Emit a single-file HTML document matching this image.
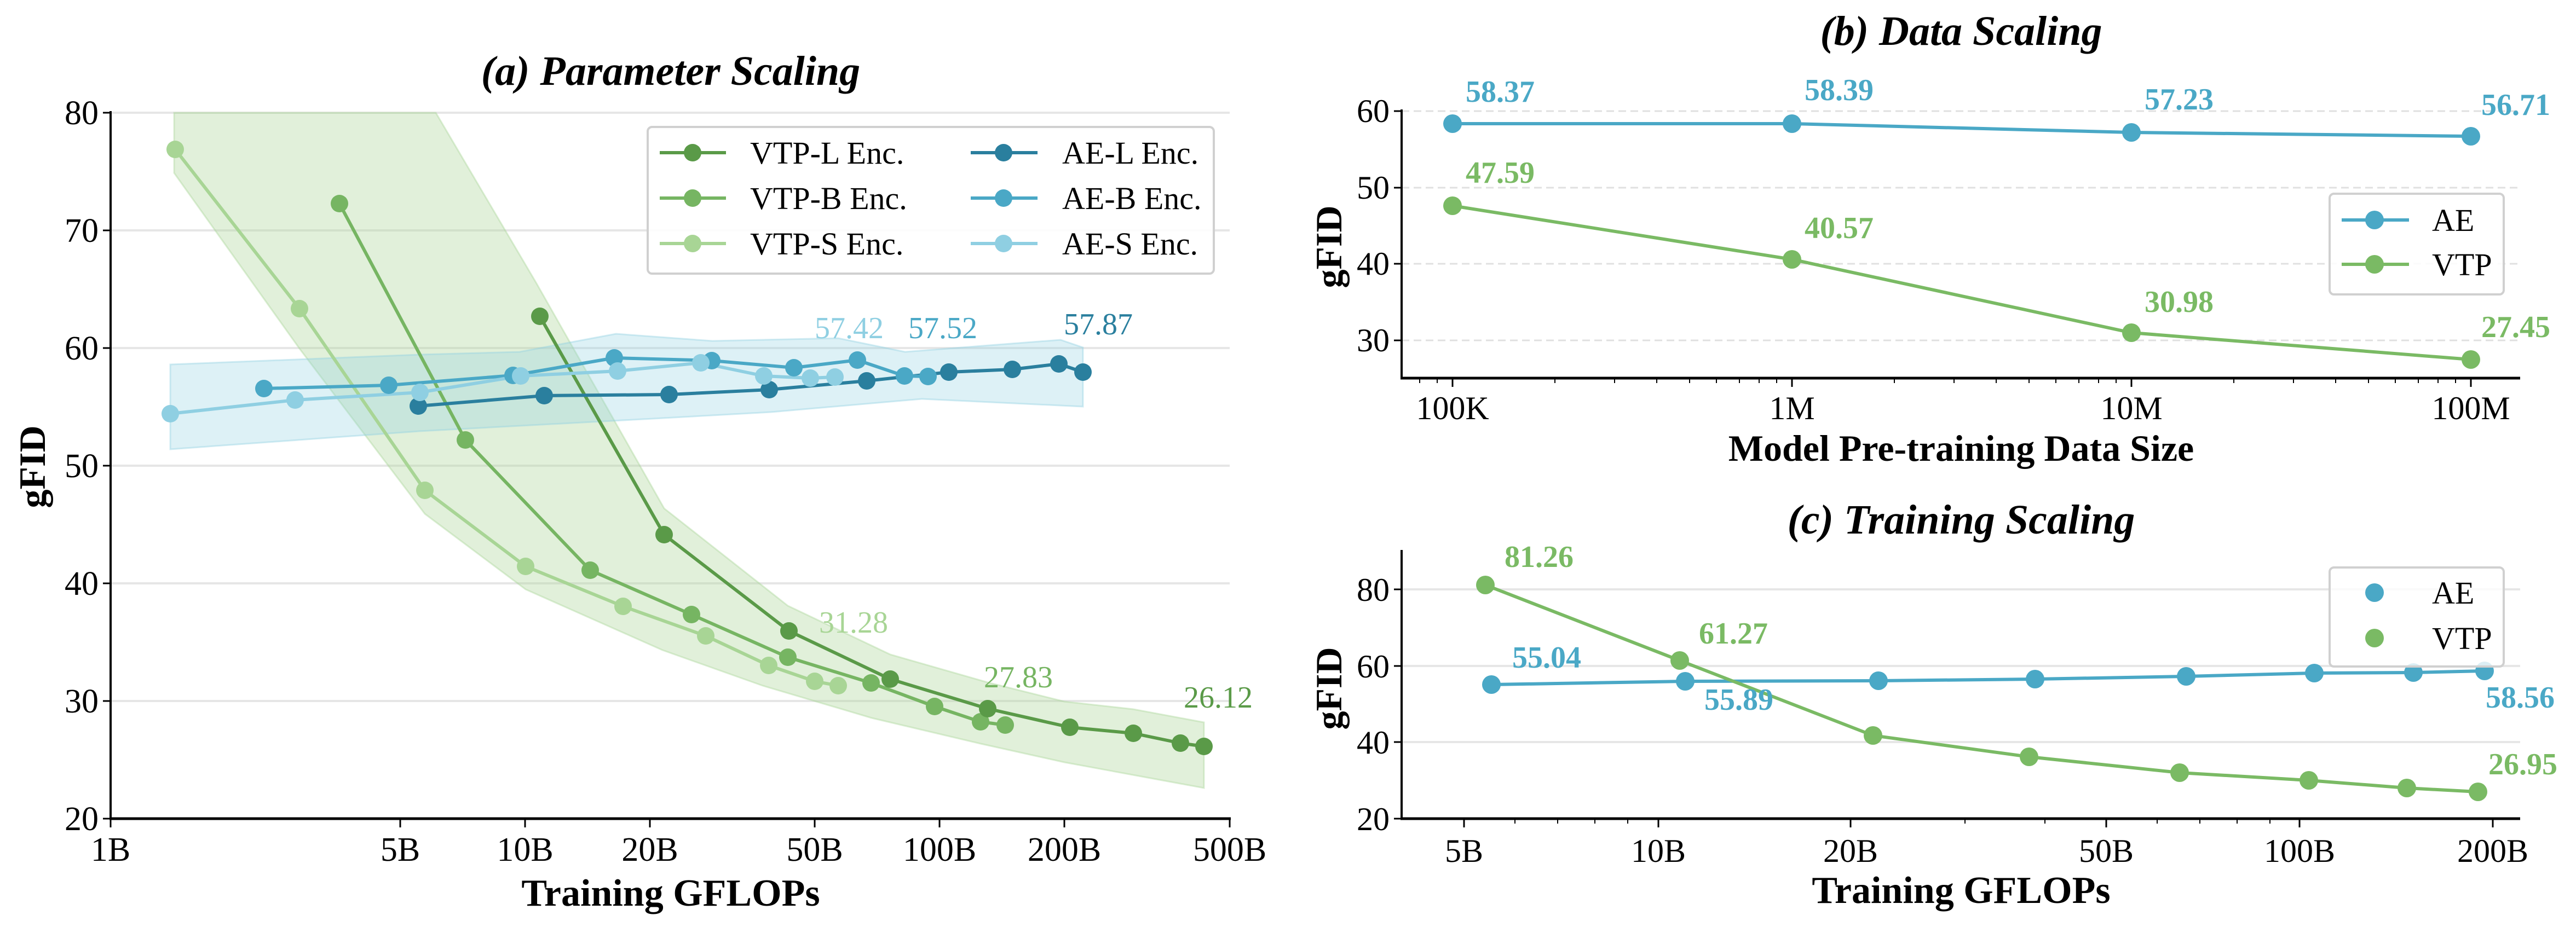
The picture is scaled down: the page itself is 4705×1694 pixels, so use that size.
<!DOCTYPE html>
<html><head><meta charset="utf-8"><style>
html,body{margin:0;padding:0;background:#fff;}
svg{display:block;font-family:"Liberation Serif",serif;}
</style></head><body>
<svg width="4705" height="1694" viewBox="0 0 4705 1694" xmlns="http://www.w3.org/2000/svg">
<rect width="4705" height="1694" fill="#fff"/>
<!-- ===== Panel (a) ===== -->
<g stroke="#e6e6e6" stroke-width="4">
<line x1="202" y1="1281" x2="2246" y2="1281"/><line x1="202" y1="1066" x2="2246" y2="1066"/>
<line x1="202" y1="851" x2="2246" y2="851"/><line x1="202" y1="636" x2="2246" y2="636"/>
<line x1="202" y1="421" x2="2246" y2="421"/><line x1="202" y1="206" x2="2246" y2="206"/>
</g>
<polygon fill="#a8d595" fill-opacity="0.35" stroke="#a8d595" stroke-opacity="0.4" stroke-width="3" points="318,206 796,206 980,518 1213,929 1439,1107 1626,1196 1804,1247 1944,1282 2070,1296 2199,1320 2199,1440 1944,1393 1791,1359 1592,1312 1393,1253 1210,1188 960,1077 776,939 547,637 318,316"/>
<polygon fill="#8fcfe2" fill-opacity="0.3" stroke="#8fcfe2" stroke-opacity="0.4" stroke-width="3" points="311,666 766,648 949,643 1125,610 1301,623 1531,618 1653,643 1937,621 1978,635 1978,743 1684,729 1409,753 1194,765 766,788 311,821"/>
<g fill="none" stroke-width="6" stroke-linejoin="round">
<polyline stroke="#a8d595" points="320,273 547,564 776,896 960,1035 1138,1108 1289,1162 1404,1216 1488,1245 1531,1253"/>
<polyline stroke="#76b562" points="620,372 850,804 1078,1042 1263,1123 1439,1201 1591,1248 1707,1291 1791,1319 1836,1325"/>
<polyline stroke="#5a9a48" points="986,578 1213,977 1441,1153 1626,1241 1804,1295 1954,1329 2070,1340 2156,1358 2199,1364"/>
<polyline stroke="#2a7f9e" points="764,742 994,723 1222,721 1405,712 1583,696 1733,680 1849,675 1934,665 1978,680"/>
<polyline stroke="#4aa8c6" points="482,710 710,704 937,686 1122,654 1300,659 1450,672 1566,658 1652,687 1695,688"/>
<polyline stroke="#8fcfe2" points="311,756 539,731 767,717 951,687 1128,678 1280,663 1395,687 1480,691 1525,689"/>
</g>
<g fill="#a8d595"><circle cx="320" cy="273" r="16"/><circle cx="547" cy="564" r="16"/><circle cx="776" cy="896" r="16"/><circle cx="960" cy="1035" r="16"/><circle cx="1138" cy="1108" r="16"/><circle cx="1289" cy="1162" r="16"/><circle cx="1404" cy="1216" r="16"/><circle cx="1488" cy="1245" r="16"/><circle cx="1531" cy="1253" r="16"/></g>
<g fill="#76b562"><circle cx="620" cy="372" r="16"/><circle cx="850" cy="804" r="16"/><circle cx="1078" cy="1042" r="16"/><circle cx="1263" cy="1123" r="16"/><circle cx="1439" cy="1201" r="16"/><circle cx="1591" cy="1248" r="16"/><circle cx="1707" cy="1291" r="16"/><circle cx="1791" cy="1319" r="16"/><circle cx="1836" cy="1325" r="16"/></g>
<g fill="#5a9a48"><circle cx="986" cy="578" r="16"/><circle cx="1213" cy="977" r="16"/><circle cx="1441" cy="1153" r="16"/><circle cx="1626" cy="1241" r="16"/><circle cx="1804" cy="1295" r="16"/><circle cx="1954" cy="1329" r="16"/><circle cx="2070" cy="1340" r="16"/><circle cx="2156" cy="1358" r="16"/><circle cx="2199" cy="1364" r="16"/></g>
<g fill="#2a7f9e"><circle cx="764" cy="742" r="16"/><circle cx="994" cy="723" r="16"/><circle cx="1222" cy="721" r="16"/><circle cx="1405" cy="712" r="16"/><circle cx="1583" cy="696" r="16"/><circle cx="1733" cy="680" r="16"/><circle cx="1849" cy="675" r="16"/><circle cx="1934" cy="665" r="16"/><circle cx="1978" cy="680" r="16"/></g>
<g fill="#4aa8c6"><circle cx="482" cy="710" r="16"/><circle cx="710" cy="704" r="16"/><circle cx="937" cy="686" r="16"/><circle cx="1122" cy="654" r="16"/><circle cx="1300" cy="659" r="16"/><circle cx="1450" cy="672" r="16"/><circle cx="1566" cy="658" r="16"/><circle cx="1652" cy="687" r="16"/><circle cx="1695" cy="688" r="16"/></g>
<g fill="#8fcfe2"><circle cx="311" cy="756" r="16"/><circle cx="539" cy="731" r="16"/><circle cx="767" cy="717" r="16"/><circle cx="951" cy="687" r="16"/><circle cx="1128" cy="678" r="16"/><circle cx="1280" cy="663" r="16"/><circle cx="1395" cy="687" r="16"/><circle cx="1480" cy="691" r="16"/><circle cx="1525" cy="689" r="16"/></g>
<g font-size="56" text-anchor="middle">
<text x="1551" y="618" fill="#8fcfe2">57.42</text>
<text x="1722" y="618" fill="#4aa8c6">57.52</text>
<text x="2006" y="611" fill="#2a7f9e">57.87</text>
<text x="1559" y="1156" fill="#a8d595">31.28</text>
<text x="1860" y="1256" fill="#76b562">27.83</text>
<text x="2225" y="1293" fill="#5a9a48">26.12</text>
</g>
<!-- legend a -->
<rect x="1183" y="232" width="1034" height="268" rx="8" fill="#fff" fill-opacity="0.85" stroke="#d0d0d0" stroke-width="4"/>
<g stroke-width="6">
<line x1="1205" y1="279" x2="1326" y2="279" stroke="#5a9a48"/><circle cx="1265" cy="279" r="16" fill="#5a9a48"/>
<line x1="1205" y1="362" x2="1326" y2="362" stroke="#76b562"/><circle cx="1265" cy="362" r="16" fill="#76b562"/>
<line x1="1205" y1="445" x2="1326" y2="445" stroke="#a8d595"/><circle cx="1265" cy="445" r="16" fill="#a8d595"/>
<line x1="1773" y1="279" x2="1895" y2="279" stroke="#2a7f9e"/><circle cx="1833" cy="279" r="16" fill="#2a7f9e"/>
<line x1="1773" y1="362" x2="1895" y2="362" stroke="#4aa8c6"/><circle cx="1833" cy="362" r="16" fill="#4aa8c6"/>
<line x1="1773" y1="445" x2="1895" y2="445" stroke="#8fcfe2"/><circle cx="1833" cy="445" r="16" fill="#8fcfe2"/>
</g>
<g font-size="58" fill="#000">
<text x="1370" y="299">VTP-L Enc.</text><text x="1370" y="382">VTP-B Enc.</text><text x="1370" y="465">VTP-S Enc.</text>
<text x="1940" y="299">AE-L Enc.</text><text x="1940" y="382">AE-B Enc.</text><text x="1940" y="465">AE-S Enc.</text>
</g>
<!-- axes a -->
<g stroke="#000">
<line x1="202" y1="203" x2="202" y2="1498" stroke-width="4"/>
<line x1="200" y1="1496" x2="2248" y2="1496" stroke-width="5"/>
<g stroke-width="3">
<line x1="188" y1="1496" x2="202" y2="1496"/><line x1="188" y1="1281" x2="202" y2="1281"/><line x1="188" y1="1066" x2="202" y2="1066"/><line x1="188" y1="851" x2="202" y2="851"/><line x1="188" y1="636" x2="202" y2="636"/><line x1="188" y1="421" x2="202" y2="421"/><line x1="188" y1="206" x2="202" y2="206"/>
<line x1="202" y1="1496" x2="202" y2="1512"/><line x1="731" y1="1496" x2="731" y2="1512"/><line x1="959" y1="1496" x2="959" y2="1512"/><line x1="1187" y1="1496" x2="1187" y2="1512"/><line x1="1488" y1="1496" x2="1488" y2="1512"/><line x1="1716" y1="1496" x2="1716" y2="1512"/><line x1="1944" y1="1496" x2="1944" y2="1512"/><line x1="2246" y1="1496" x2="2246" y2="1512"/>
</g></g>
<g font-size="62" text-anchor="end">
<text x="180" y="1517">20</text><text x="180" y="1302">30</text><text x="180" y="1087">40</text><text x="180" y="872">50</text><text x="180" y="657">60</text><text x="180" y="442">70</text><text x="180" y="227">80</text>
</g>
<g font-size="62" text-anchor="middle">
<text x="202" y="1573">1B</text><text x="731" y="1573">5B</text><text x="959" y="1573">10B</text><text x="1187" y="1573">20B</text><text x="1488" y="1573">50B</text><text x="1716" y="1573">100B</text><text x="1944" y="1573">200B</text><text x="2246" y="1573">500B</text>
</g>
<text x="1225" y="1655" font-size="70" font-weight="bold" text-anchor="middle">Training GFLOPs</text>
<text x="1225" y="155" font-size="76" font-weight="bold" font-style="italic" text-anchor="middle">(a) Parameter Scaling</text>
<text transform="translate(82,853) rotate(-90)" font-size="68" font-weight="bold" text-anchor="middle">gFID</text>

<!-- ===== Panel (b) ===== -->
<g stroke="#e0e0e0" stroke-width="3" stroke-dasharray="14,8">
<line x1="2560" y1="622" x2="4603" y2="622"/><line x1="2560" y1="482" x2="4603" y2="482"/><line x1="2560" y1="343" x2="4603" y2="343"/><line x1="2560" y1="203" x2="4603" y2="203"/>
</g>
<g fill="none" stroke-width="6">
<polyline stroke="#4aa8c6" points="2653,226 3273,226 3893,242 4513,249"/>
<polyline stroke="#7aba64" points="2653,376 3273,474 3893,608 4513,657"/>
</g>
<g fill="#4aa8c6"><circle cx="2653" cy="226" r="17"/><circle cx="3273" cy="226" r="17"/><circle cx="3893" cy="242" r="17"/><circle cx="4513" cy="249" r="17"/></g>
<g fill="#7aba64"><circle cx="2653" cy="376" r="17"/><circle cx="3273" cy="474" r="17"/><circle cx="3893" cy="608" r="17"/><circle cx="4513" cy="657" r="17"/></g>
<g font-size="56" font-weight="bold" text-anchor="middle">
<text x="2740" y="186" fill="#4aa8c6">58.37</text><text x="3359" y="183" fill="#4aa8c6">58.39</text><text x="3980" y="200" fill="#4aa8c6">57.23</text><text x="4595" y="210" fill="#4aa8c6">56.71</text>
<text x="2740" y="334" fill="#7aba64">47.59</text><text x="3359" y="435" fill="#7aba64">40.57</text><text x="3980" y="570" fill="#7aba64">30.98</text><text x="4595" y="616" fill="#7aba64">27.45</text>
</g>
<rect x="4255" y="354" width="318" height="184" rx="8" fill="#fff" fill-opacity="0.85" stroke="#d0d0d0" stroke-width="4"/>
<line x1="4277" y1="402" x2="4400" y2="402" stroke="#4aa8c6" stroke-width="6"/><circle cx="4337" cy="402" r="17" fill="#4aa8c6"/>
<line x1="4277" y1="483" x2="4400" y2="483" stroke="#7aba64" stroke-width="6"/><circle cx="4337" cy="483" r="17" fill="#7aba64"/>
<text x="4442" y="422" font-size="58">AE</text><text x="4442" y="503" font-size="58">VTP</text>
<g stroke="#000">
<line x1="2560" y1="200" x2="2560" y2="693" stroke-width="4"/>
<line x1="2558" y1="691" x2="4603" y2="691" stroke-width="5"/>
<g stroke-width="3">
<line x1="2546" y1="622" x2="2560" y2="622"/><line x1="2546" y1="482" x2="2560" y2="482"/><line x1="2546" y1="343" x2="2560" y2="343"/><line x1="2546" y1="203" x2="2560" y2="203"/>
<line x1="2653" y1="691" x2="2653" y2="707"/><line x1="3273" y1="691" x2="3273" y2="707"/><line x1="3893" y1="691" x2="3893" y2="707"/><line x1="4513" y1="691" x2="4513" y2="707"/>
</g>
<g stroke-width="2">
<line x1="2593" y1="691" x2="2593" y2="700"/><line x1="2625" y1="691" x2="2625" y2="700"/>
<line x1="2840" y1="691" x2="2840" y2="700"/><line x1="2949" y1="691" x2="2949" y2="700"/><line x1="3026" y1="691" x2="3026" y2="700"/><line x1="3086" y1="691" x2="3086" y2="700"/><line x1="3135" y1="691" x2="3135" y2="700"/><line x1="3177" y1="691" x2="3177" y2="700"/><line x1="3213" y1="691" x2="3213" y2="700"/><line x1="3245" y1="691" x2="3245" y2="700"/>
<line x1="3460" y1="691" x2="3460" y2="700"/><line x1="3569" y1="691" x2="3569" y2="700"/><line x1="3646" y1="691" x2="3646" y2="700"/><line x1="3706" y1="691" x2="3706" y2="700"/><line x1="3755" y1="691" x2="3755" y2="700"/><line x1="3797" y1="691" x2="3797" y2="700"/><line x1="3833" y1="691" x2="3833" y2="700"/><line x1="3865" y1="691" x2="3865" y2="700"/>
<line x1="4080" y1="691" x2="4080" y2="700"/><line x1="4189" y1="691" x2="4189" y2="700"/><line x1="4266" y1="691" x2="4266" y2="700"/><line x1="4326" y1="691" x2="4326" y2="700"/><line x1="4375" y1="691" x2="4375" y2="700"/><line x1="4417" y1="691" x2="4417" y2="700"/><line x1="4453" y1="691" x2="4453" y2="700"/><line x1="4485" y1="691" x2="4485" y2="700"/>
</g></g>
<g font-size="60" text-anchor="end">
<text x="2538" y="642">30</text><text x="2538" y="502">40</text><text x="2538" y="363">50</text><text x="2538" y="223">60</text>
</g>
<g font-size="60" text-anchor="middle">
<text x="2653" y="766">100K</text><text x="3273" y="766">1M</text><text x="3893" y="766">10M</text><text x="4513" y="766">100M</text>
</g>
<text x="3582" y="842" font-size="68" font-weight="bold" text-anchor="middle">Model Pre-training Data Size</text>
<text x="3582" y="82" font-size="76" font-weight="bold" font-style="italic" text-anchor="middle">(b) Data Scaling</text>
<text transform="translate(2450,451) rotate(-90)" font-size="68" font-weight="bold" text-anchor="middle">gFID</text>

<!-- ===== Panel (c) ===== -->
<g stroke="#e6e6e6" stroke-width="4">
<line x1="2560" y1="1356" x2="4603" y2="1356"/><line x1="2560" y1="1217" x2="4603" y2="1217"/><line x1="2560" y1="1077" x2="4603" y2="1077"/>
</g>
<g fill="none" stroke-width="6">
<polyline stroke="#4aa8c6" points="2724,1251 3078,1245 3431,1244 3717,1241 3993,1236 4227,1230 4408,1229 4538,1226"/>
<polyline stroke="#7aba64" points="2713,1069 3068,1207 3421,1344 3706,1383 3981,1412 4217,1426 4396,1440 4526,1447"/>
</g>
<g fill="#4aa8c6"><circle cx="2724" cy="1251" r="17"/><circle cx="3078" cy="1245" r="17"/><circle cx="3431" cy="1244" r="17"/><circle cx="3717" cy="1241" r="17"/><circle cx="3993" cy="1236" r="17"/><circle cx="4227" cy="1230" r="17"/><circle cx="4408" cy="1229" r="17"/><circle cx="4538" cy="1226" r="17"/></g>
<g fill="#7aba64"><circle cx="2713" cy="1069" r="17"/><circle cx="3068" cy="1207" r="17"/><circle cx="3421" cy="1344" r="17"/><circle cx="3706" cy="1383" r="17"/><circle cx="3981" cy="1412" r="17"/><circle cx="4217" cy="1426" r="17"/><circle cx="4396" cy="1440" r="17"/><circle cx="4526" cy="1447" r="17"/></g>
<g font-size="56" font-weight="bold" text-anchor="middle">
<text x="2811" y="1036" fill="#7aba64">81.26</text><text x="3166" y="1176" fill="#7aba64">61.27</text><text x="4608" y="1415" fill="#7aba64">26.95</text>
<text x="2825" y="1220" fill="#4aa8c6">55.04</text><text x="3176" y="1297" fill="#4aa8c6">55.89</text><text x="4603" y="1293" fill="#4aa8c6">58.56</text>
</g>
<rect x="4255" y="1037" width="318" height="181" rx="8" fill="#fff" fill-opacity="0.8" stroke="#d0d0d0" stroke-width="4"/>
<circle cx="4337" cy="1083" r="17" fill="#4aa8c6"/><circle cx="4337" cy="1166" r="17" fill="#7aba64"/>
<text x="4442" y="1103" font-size="58">AE</text><text x="4442" y="1186" font-size="58">VTP</text>
<g stroke="#000">
<line x1="2560" y1="1005" x2="2560" y2="1498" stroke-width="4"/>
<line x1="2558" y1="1496" x2="4603" y2="1496" stroke-width="5"/>
<g stroke-width="3">
<line x1="2546" y1="1496" x2="2560" y2="1496"/><line x1="2546" y1="1356" x2="2560" y2="1356"/><line x1="2546" y1="1217" x2="2560" y2="1217"/><line x1="2546" y1="1077" x2="2560" y2="1077"/>
<line x1="2674" y1="1496" x2="2674" y2="1512"/><line x1="3029" y1="1496" x2="3029" y2="1512"/><line x1="3380" y1="1496" x2="3380" y2="1512"/><line x1="3847" y1="1496" x2="3847" y2="1512"/><line x1="4200" y1="1496" x2="4200" y2="1512"/><line x1="4553" y1="1496" x2="4553" y2="1512"/>
</g>
<g stroke-width="2">
<line x1="2767" y1="1496" x2="2767" y2="1505"/><line x1="2845" y1="1496" x2="2845" y2="1505"/><line x1="2913" y1="1496" x2="2913" y2="1505"/><line x1="2973" y1="1496" x2="2973" y2="1505"/>
<line x1="3589" y1="1496" x2="3589" y2="1505"/><line x1="3735" y1="1496" x2="3735" y2="1505"/>
<line x1="3940" y1="1496" x2="3940" y2="1505"/><line x1="4018" y1="1496" x2="4018" y2="1505"/><line x1="4086" y1="1496" x2="4086" y2="1505"/><line x1="4146" y1="1496" x2="4146" y2="1505"/>
</g></g>
<g font-size="60" text-anchor="end">
<text x="2538" y="1517">20</text><text x="2538" y="1377">40</text><text x="2538" y="1238">60</text><text x="2538" y="1098">80</text>
</g>
<g font-size="60" text-anchor="middle">
<text x="2674" y="1575">5B</text><text x="3029" y="1575">10B</text><text x="3380" y="1575">20B</text><text x="3847" y="1575">50B</text><text x="4200" y="1575">100B</text><text x="4553" y="1575">200B</text>
</g>
<text x="3582" y="1650" font-size="70" font-weight="bold" text-anchor="middle">Training GFLOPs</text>
<text x="3582" y="975" font-size="76" font-weight="bold" font-style="italic" text-anchor="middle">(c) Training Scaling</text>
<text transform="translate(2450,1258) rotate(-90)" font-size="68" font-weight="bold" text-anchor="middle">gFID</text>
</svg>
</body></html>
